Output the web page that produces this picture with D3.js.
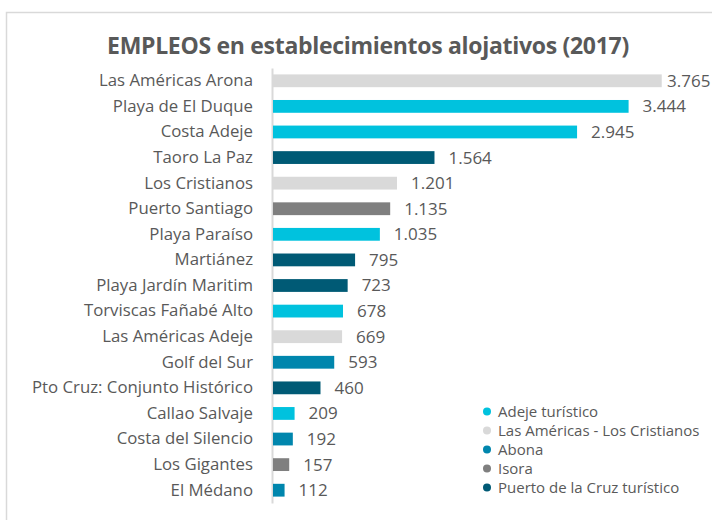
<!DOCTYPE html>
<html>
<head>
<meta charset="utf-8">
<script src="https://cdn.jsdelivr.net/npm/d3@7"></script>
<style>
  body { margin: 0; background: #fff; }
  text { font-family: "Open Sans", Lato, sans-serif; fill: #595959; }
</style>
</head>
<body>
<div id="chart"></div>
<script>
// data --------------------------------------------------------------
const places = [
  "Las Américas Arona", "Playa de El Duque", "Costa Adeje", "Taoro La Paz",
  "Los Cristianos", "Puerto Santiago", "Playa Paraíso", "Martiánez",
  "Playa Jardín Maritim", "Torviscas Fañabé Alto", "Las Américas Adeje",
  "Golf del Sur", "Pto Cruz: Conjunto Histórico", "Callao Salvaje",
  "Costa del Silencio", "Los Gigantes", "El Médano"
]
const empleos = [3765, 3444, 2945, 1564, 1201, 1135, 1035, 795, 723, 678, 669, 593, 460, 209, 192, 157, 112]
const zona = [
  "Las Américas - Los Cristianos", "Adeje turístico", "Adeje turístico", "Puerto de la Cruz turístico",
  "Las Américas - Los Cristianos", "Isora", "Adeje turístico", "Puerto de la Cruz turístico",
  "Puerto de la Cruz turístico", "Adeje turístico", "Las Américas - Los Cristianos",
  "Abona", "Puerto de la Cruz turístico", "Adeje turístico",
  "Abona", "Isora", "Abona"
]
const zonas = ["Adeje turístico", "Las Américas - Los Cristianos", "Abona", "Isora", "Puerto de la Cruz turístico"]
const zonaColors = ["#00c2de", "#d9d9d9", "#0086ad", "#7f7f7f", "#005a75"]

// layout ------------------------------------------------------------
const width = 712,
      height = 520,
      axisX = 272,
      xMax = 4000,
      xRight = 686,
      plotTop = 68,
      plotBottom = 503

const rows = places.map((p, i) => ({ place: p, value: empleos[i], zona: zona[i] }))

const svg = d3.select("#chart").append("svg")
  .attr("width", width)
  .attr("height", height)

// light frame round the chart
svg.append("rect")
  .attr("x", 6.5).attr("y", 12.5)
  .attr("width", width + 10).attr("height", height + 10)
  .attr("fill", "none")
  .attr("stroke", "#d9d9d9")
  .attr("stroke-width", 1.5)

svg.append("text")
  .attr("x", 368).attr("y", 54)
  .attr("text-anchor", "middle")
  .style("font-size", "23px")
  .style("font-weight", "bold")
  .style("letter-spacing", "-0.3px")
  .text("EMPLEOS en establecimientos alojativos (2017)")

const x = d3.scaleLinear().domain([0, xMax]).range([axisX + 1, xRight])
const y = d3.scaleBand().domain(places).range([plotTop, plotBottom])
  .paddingInner(0.5).paddingOuter(0.25)
const color = d3.scaleOrdinal().domain(zonas).range(zonaColors)
const fmt = d3.formatLocale({ decimal: ",", thousands: ".", grouping: [3], currency: ["", "€"] }).format(",d")

// category axis
const yAxis = svg.append("g")
  .attr("transform", `translate(${axisX},0)`)
  .call(d3.axisLeft(y).tickSize(0).tickPadding(19))
yAxis.select(".domain").attr("stroke", "#d9d9d9").attr("stroke-width", 2)
yAxis.selectAll("text")
  .style("font-size", "16.8px")
  .attr("fill", "#595959")

// bars
svg.append("g").selectAll("rect")
  .data(rows)
  .join("rect")
  .attr("x", x(0))
  .attr("y", d => y(d.place))
  .attr("width", d => x(d.value) - x(0))
  .attr("height", y.bandwidth())
  .attr("fill", d => color(d.zona))

// value labels (the longest one is pulled in so it stays on the page)
svg.append("g").selectAll("text")
  .data(rows)
  .join("text")
  .attr("x", d => Math.min(x(d.value) + 14, 667))
  .attr("y", d => y(d.place) + y.bandwidth() / 2)
  .attr("dy", "0.35em")
  .style("font-size", "17px")
  .text(d => fmt(d.value))

// legend
const legend = svg.append("g").selectAll("g")
  .data(zonas)
  .join("g")
  .attr("transform", (d, i) => `translate(487,${411.5 + i * 19})`)
legend.append("circle").attr("r", 4).attr("fill", d => color(d))
legend.append("text")
  .attr("x", 11)
  .attr("dy", "0.35em")
  .style("font-size", "15px")
  .text(d => d)
</script>
</body>
</html>
